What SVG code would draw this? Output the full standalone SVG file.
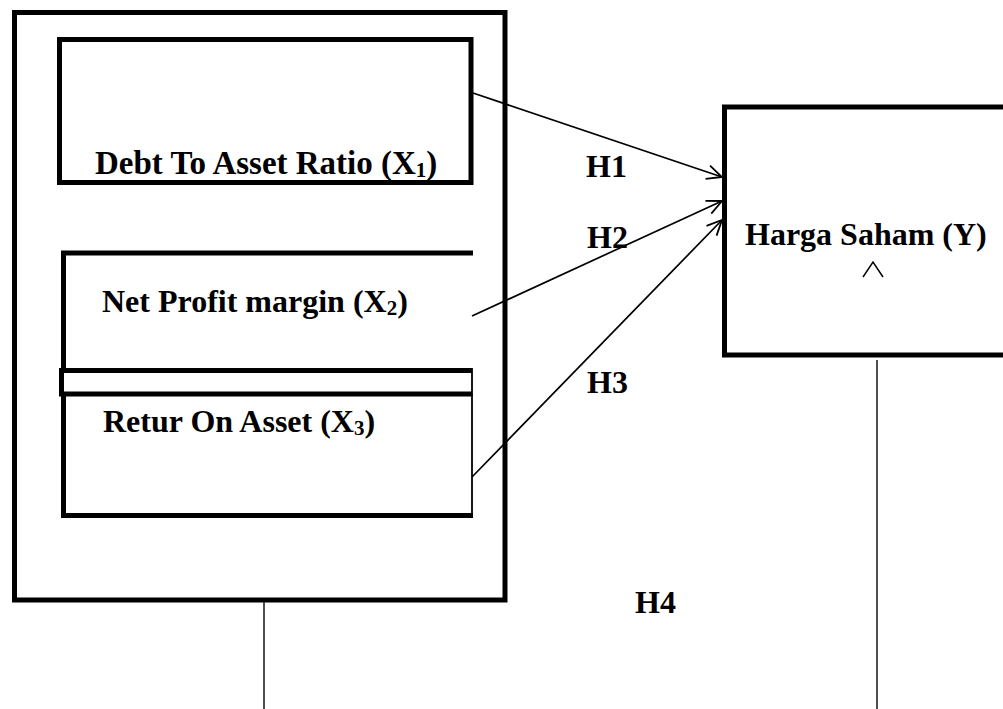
<svg xmlns="http://www.w3.org/2000/svg" width="1003" height="709" viewBox="0 0 1003 709">
<style>
.thick{fill:none;stroke:#000;stroke-width:5;}
.thin{fill:none;stroke:#000;stroke-width:1.8;}
.conn{fill:none;stroke:#000;stroke-width:1.7;}
.vline{fill:none;stroke:#222;stroke-width:1.6;}
.lbl{font-family:"Liberation Serif","Times New Roman",serif;font-weight:bold;font-size:32px;fill:#000;}
.sub{font-size:21px;}
</style>
<defs>
<marker id="arr" viewBox="0 0 20 20" refX="17" refY="10" markerWidth="20" markerHeight="20" markerUnits="userSpaceOnUse" orient="auto">
<path d="M2,3 L17,10 L2,17" fill="none" stroke="#000" stroke-width="1.8"/>
</marker>
</defs>
<rect width="1003" height="709" fill="#fff"/>
<g id="outer-box">
<rect class="thick" x="14.5" y="12.5" width="490.5" height="587.5"/>
</g>
<g id="node-x1">
<rect class="thick" x="59.5" y="39.5" width="411.5" height="143"/>
<text class="lbl" x="95" y="174" style="font-size:33px">Debt To Asset Ratio (X<tspan class="sub" dy="3">1</tspan><tspan dy="-3">)</tspan></text>
</g>
<g id="node-x2">
<path class="thick" d="M61,253 H473 M63.5,253 V372"/>
<text class="lbl" x="102" y="312">Net Profit margin (X<tspan class="sub" dy="3">2</tspan><tspan dy="-3">)</tspan></text>
</g>
<g id="band">
<path class="thick" d="M59,370.5 H472 M59,394 H472 M61.5,368 V396.5"/>
<path class="thin" d="M472,368 V396"/>
</g>
<g id="node-x3">
<path class="thick" d="M63.5,394 V515.5 M61,515.5 H473"/>
<path class="thin" d="M472,394 V516"/>
<text class="lbl" x="103" y="432">Retur On Asset (X<tspan class="sub" dy="3">3</tspan><tspan dy="-3">)</tspan></text>
</g>
<g id="node-y">
<path class="thick" d="M1010,107 H724.5 V355 H1010"/>
<text class="lbl" x="745" y="245">Harga Saham (Y)</text>
<path d="M863,277 L873,262 L883,277" fill="none" stroke="#000" stroke-width="1.5"/>
</g>
<g id="connectors">
<line class="conn" x1="473" y1="93" x2="722" y2="177" marker-end="url(#arr)"/>
<line class="conn" x1="472" y1="316" x2="722" y2="201" marker-end="url(#arr)"/>
<line class="conn" x1="472" y1="477" x2="722" y2="220" marker-end="url(#arr)"/>
<line class="vline" x1="264" y1="602" x2="264" y2="709"/>
<line class="vline" x1="877" y1="360" x2="877" y2="709"/>
</g>
<g id="labels">
<text class="lbl" x="586" y="177">H1</text>
<text class="lbl" x="587" y="248">H2</text>
<text class="lbl" x="587" y="393">H3</text>
<text class="lbl" x="635" y="613">H4</text>
</g>
</svg>
